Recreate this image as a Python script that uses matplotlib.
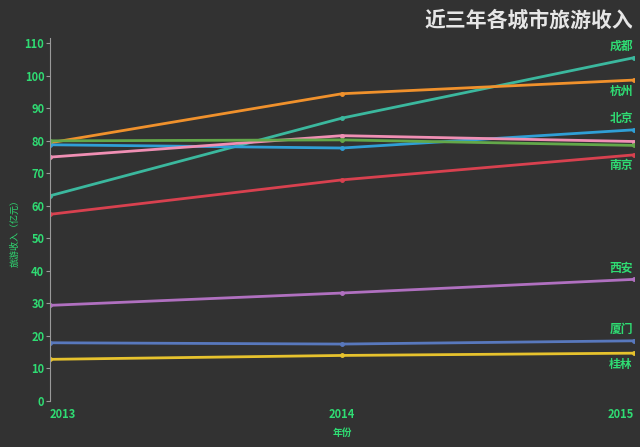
"""Tourism revenue of major Chinese cities over three years, dark theme line chart."""

import matplotlib.pyplot as plt

plt.rcParams["font.family"] = ["Noto Sans CJK SC", "DejaVu Sans"]

years = [2013, 2014, 2015]

cities = ["成都", "杭州", "北京", "", "", "南京", "西安", "厦门", "桂林"]
chengdu = [63.1, 87.0, 105.6]
hangzhou = [79.4, 94.5, 98.7]
beijing = [78.8, 77.8, 83.4]
pink_city = [75.0, 81.6, 79.8]
green_city = [80.0, 80.3, 78.6]
nanjing = [57.4, 68.0, 75.7]
xian = [29.4, 33.2, 37.4]
xiamen = [17.9, 17.5, 18.5]
guilin = [12.8, 14.0, 14.7]

series = [chengdu, hangzhou, beijing, pink_city, green_city, nanjing, xian, xiamen, guilin]
colors = ["#3bb89e", "#f0912c", "#2f9fd6", "#f08fb4", "#63a84a",
          "#d8414f", "#b070c0", "#5878bd", "#e6c22d"]
# label above (+) or below (-) the line end
label_side = [1, -1, 1, 0, 0, -1, 1, 1, -1]

BG = "#323232"
GREEN = "#2fdc73"

fig = plt.figure(figsize=(6.4, 4.47), dpi=100, facecolor=BG)
ax = fig.add_axes([0.078, 0.103, 0.913, 0.811], facecolor=BG)

for name, vals, col, side in zip(cities, series, colors, label_side):
    ax.plot(years, vals, color=col, linewidth=2, marker="o", markersize=2.5,
            solid_capstyle="round")
    if name:
        ax.annotate(name, (years[-1], vals[-1]), xytext=(-1, 8 * side),
                    textcoords="offset points", ha="right", va="center",
                    color=GREEN, fontsize=8.5, fontweight="bold")

ax.set_xlim(2013, 2015)
ax.set_ylim(0, 111.5)
ax.set_yticks(range(0, 111, 10))
ax.set_xticks(years)
ax.set_xticklabels([str(y) for y in years], fontweight="bold")
for lbl, ha in zip(ax.get_xticklabels(), ["left", "center", "right"]):
    lbl.set_ha(ha)

for s in ["top", "right", "bottom"]:
    ax.spines[s].set_visible(False)
ax.spines["left"].set_color("#9a9a9a")
ax.spines["left"].set_linewidth(0.8)
ax.tick_params(axis="y", colors="#9a9a9a", length=3, width=0.8, labelsize=8,
               labelcolor=GREEN, pad=1)
ax.tick_params(axis="x", length=0, labelsize=8, labelcolor=GREEN, pad=5)
for lbl in ax.get_yticklabels():
    lbl.set_fontweight("bold")

ax.set_ylabel("旅游收入（亿元）", color=GREEN, fontsize=6.5)
ax.yaxis.set_label_coords(-0.052, 0.47)
ax.set_xlabel("年份", color=GREEN, fontsize=7, fontweight="bold")
ax.xaxis.set_label_coords(0.5, -0.075)

fig.text(0.99, 0.955, "近三年各城市旅游收入", ha="right", va="center",
         color="#e6e6e6", fontsize=15, fontweight="bold")

plt.savefig("out.png", dpi=100, facecolor=BG)
